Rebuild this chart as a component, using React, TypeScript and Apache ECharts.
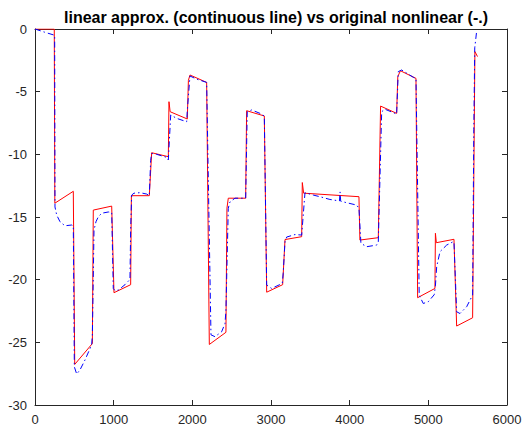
import React, { useEffect, useRef } from "react";
import * as echarts from "echarts";

// Piecewise-linear approximation of the response (solid red)
const linearApprox: [number, number][] = [
  [0, 0], [245, 0], [252, -13.9], [487, -12.95], [505, -26.76], [729, -25.1],
  [741, -14.45], [975, -14.13], [1004, -21.04], [1216, -20.4], [1225, -13.3],
  [1453, -13.3], [1483, -9.87], [1695, -10.19], [1703, -5.8], [1718, -6.6],
  [1936, -7.18], [1950, -4.1], [1970, -3.67], [2182, -4.26], [2216, -25.17],
  [2427, -24.2], [2440, -14.3], [2457, -13.5], [2678, -13.5], [2690, -6.52],
  [2915, -6.94], [2945, -21.0], [3148, -20.4], [3178, -16.8], [3390, -16.57],
  [3398, -12.25], [3415, -13.1], [4118, -13.38], [4130, -16.84], [4364, -16.65],
  [4393, -6.15], [4597, -6.73], [4612, -3.8], [4645, -3.33], [4843, -3.94],
  [4864, -21.44], [5084, -20.7], [5090, -16.3], [5102, -17.05], [5326, -16.78],
  [5360, -23.7], [5563, -23.04], [5592, -1.8], [5625, -2.2],
];

// Original nonlinear response (blue dash-dot)
const nonlinear: [number, number][] = [
  [0, 0], [120, -0.25], [250, -0.5], [254, -14.2], [276, -14.85], [318, -15.38],
  [381, -15.7], [466, -15.64], [487, -15.7], [500, -26.95], [530, -27.53],
  [572, -27.2], [636, -26.4], [720, -25.2], [729, -24.5], [750, -16.04],
  [775, -15.38], [805, -14.98], [848, -14.7], [932, -14.6], [975, -14.63],
  [995, -20.7], [1017, -20.88], [1059, -20.83], [1144, -20.4], [1207, -19.98],
  [1216, -16.0], [1229, -13.25], [1258, -13.1], [1335, -13.06], [1420, -13.17],
  [1453, -13.3], [1470, -10.5], [1483, -9.93], [1547, -10.0], [1674, -10.24],
  [1695, -10.45], [1725, -6.86], [1801, -7.13], [1928, -7.4], [1936, -6.5],
  [1970, -3.75], [2055, -4.0], [2182, -4.26], [2237, -24.4], [2288, -24.55],
  [2373, -24.15], [2415, -23.5], [2427, -22.5], [2457, -14.3], [2478, -13.8],
  [2542, -13.5], [2678, -13.5], [2698, -6.6], [2754, -6.46], [2860, -6.73],
  [2915, -6.94], [2945, -20.43], [3008, -20.7], [3143, -20.3], [3155, -19.5],
  [3178, -16.97], [3199, -16.6], [3305, -16.4], [3390, -16.44], [3432, -13.06],
  [3537, -13.25], [3622, -13.38], [3749, -13.6], [3870, -13.72], [3878, -13.0],
  [3886, -13.74], [3962, -13.86], [4089, -14.05], [4118, -14.3], [4143, -17.1],
  [4216, -17.37], [4343, -17.24], [4364, -17.0], [4407, -6.6], [4448, -6.4],
  [4576, -6.73], [4597, -6.8], [4618, -3.4], [4661, -3.27], [4808, -3.85],
  [4843, -3.95], [4884, -21.23], [4935, -21.9], [4999, -21.76], [5075, -21.2],
  [5090, -20.5], [5106, -18.97], [5148, -17.77], [5233, -17.24], [5317, -16.97],
  [5326, -17.0], [5360, -22.56], [5402, -22.7], [5487, -22.16], [5563, -21.23],
  [5578, -8.0], [5590, -1.5], [5612, -0.3],
];

const xTicks = { min: 0, max: 6000, interval: 1000 };
const yTicks = { min: -30, max: 0, interval: 5 };

const titleText = "linear approx. (continuous line) vs original nonlinear (-.)";

const axisColor = "#262626";
const fontFamily = "'Liberation Sans', Arial, Helvetica, sans-serif";

export default function App() {
  const ref = useRef<HTMLDivElement>(null);

  useEffect(() => {
    if (!ref.current) return;
    const chart = echarts.init(ref.current, undefined, { renderer: "svg" });

    const baseAxis = {
      type: "value" as const,
      axisLine: { show: true, onZero: false, lineStyle: { color: axisColor, width: 1 } },
      axisTick: { show: true, inside: true, length: 5, lineStyle: { color: axisColor } },
      splitLine: { show: false },
    };
    const plainNumber = (v: number) => String(v);

    chart.setOption({
      animation: false,
      backgroundColor: "#ffffff",
      title: {
        text: titleText,
        left: 271,
        top: 4,
        textAlign: "center",
        textStyle: { fontFamily, fontSize: 16, fontWeight: "bold", color: "#000000" },
      },
      grid: { left: 35, right: 21, top: 29, bottom: 28, containLabel: false },
      xAxis: [
        {
          ...baseAxis,
          ...xTicks,
          position: "bottom",
          axisLabel: {
            show: true, margin: 8, color: axisColor, fontFamily, fontSize: 13,
            formatter: plainNumber,
          },
        },
        {
          ...baseAxis,
          ...xTicks,
          position: "top",
          axisLabel: { show: false },
        },
      ],
      yAxis: [
        {
          ...baseAxis,
          ...yTicks,
          position: "left",
          axisLabel: {
            show: true, margin: 8, color: axisColor, fontFamily, fontSize: 13,
            formatter: plainNumber,
          },
        },
        {
          ...baseAxis,
          ...yTicks,
          position: "right",
          axisLabel: { show: false },
        },
      ],
      series: [
        {
          name: "linear approx.",
          type: "line",
          data: linearApprox,
          showSymbol: false,
          symbol: "none",
          lineStyle: { color: "#ff0000", width: 1 },
          z: 2,
        },
        {
          name: "original nonlinear",
          type: "line",
          data: nonlinear,
          showSymbol: false,
          symbol: "none",
          lineStyle: { color: "#0000ff", width: 1, type: [6, 3, 1.5, 3] },
          z: 3,
        },
      ],
    });

    return () => chart.dispose();
  }, []);

  return (
    <div
      ref={ref}
      style={{ position: "fixed", left: 0, top: 0, width: 528, height: 433, background: "#fff" }}
    />
  );
}
